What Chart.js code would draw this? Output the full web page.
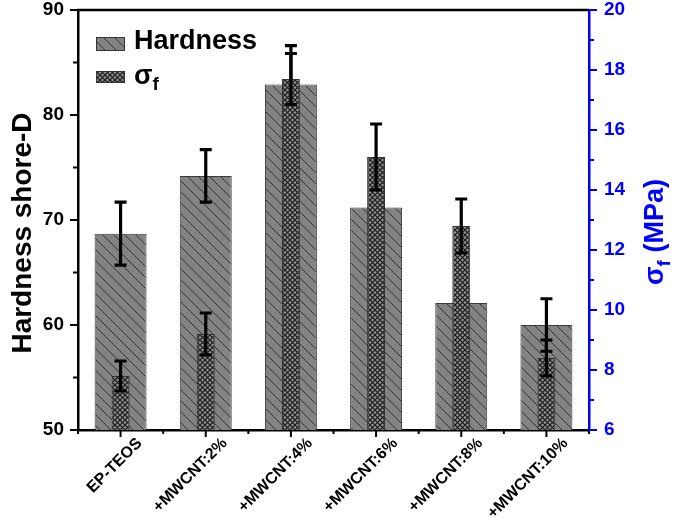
<!DOCTYPE html>
<html lang="en">
<head>
    <meta charset="UTF-8">
    <title>Hardness and flexural strength</title>
    <script src="https://cdn.jsdelivr.net/npm/chart.js"></script>
    <style>
        body {
            margin: 0;
            background: #fff;
        }
    </style>
</head>
<body>
    <canvas id="myChart" width="685" height="525"></canvas>

    <script>
        const categories = ['EP-TEOS', '+MWCNT:2%', '+MWCNT:4%', '+MWCNT:6%', '+MWCNT:8%', '+MWCNT:10%'];
        const hardness = [68.7, 74.2, 82.9, 71.2, 62.1, 60.0];
        const hardnessErr = [3.0, 2.5, 3.7, 2.5, 2.5, 2.5];
        const sigmaF = [7.8, 9.2, 17.7, 15.1, 12.8, 8.4];
        const sigmaFErr = [0.5, 0.7, 0.85, 1.1, 0.9, 0.6];
        const leftTicks = [50, 60, 70, 80, 90];
        const rightTicks = [6, 8, 10, 12, 14, 16, 18, 20];

        const FONT = 'Arial, "Liberation Sans", sans-serif';
        const BLUE = '#0000ff';

        function diagPattern() {
            const c = document.createElement('canvas');
            c.width = 11; c.height = 11;
            const g = c.getContext('2d');
            g.fillStyle = '#838383';
            g.fillRect(0, 0, 11, 11);
            g.strokeStyle = '#2a2a2a';
            g.lineWidth = 0.9;
            g.beginPath();
            g.moveTo(-1, -1); g.lineTo(12, 12);
            g.moveTo(-1, 10); g.lineTo(1, 12);
            g.moveTo(10, -1); g.lineTo(12, 1);
            g.stroke();
            return g.createPattern(c, 'repeat');
        }

        function crossPattern() {
            const c = document.createElement('canvas');
            c.width = 5; c.height = 5;
            const g = c.getContext('2d');
            g.fillStyle = '#8e8e8e';
            g.fillRect(0, 0, 5, 5);
            g.strokeStyle = '#1a1a1a';
            g.lineWidth = 1.2;
            g.beginPath();
            g.moveTo(0, 0); g.lineTo(5, 5);
            g.moveTo(0, 5); g.lineTo(5, 0);
            g.stroke();
            return g.createPattern(c, 'repeat');
        }

        const diag = diagPattern();
        const cross = crossPattern();

        // error bars drawn right after each dataset so sigma bars cover hardness errors
        const errorBars = {
            id: 'errorBars',
            afterDatasetDraw(chart, args) {
                const ds = chart.data.datasets[args.index];
                const errs = ds.errors;
                if (!errs) return;
                const ctx = chart.ctx;
                const y = chart.scales[ds.yAxisID];
                ctx.save();
                ctx.strokeStyle = '#000';
                ctx.lineWidth = 3.2;
                args.meta.data.forEach((bar, i) => {
                    const v = ds.data[i];
                    const top = y.getPixelForValue(v + errs[i]);
                    const bot = y.getPixelForValue(v - errs[i]);
                    ctx.beginPath();
                    ctx.moveTo(bar.x, top); ctx.lineTo(bar.x, bot);
                    ctx.moveTo(bar.x - 6, top); ctx.lineTo(bar.x + 6, top);
                    ctx.moveTo(bar.x - 6, bot); ctx.lineTo(bar.x + 6, bot);
                    ctx.stroke();
                });
                ctx.restore();
            }
        };

        const decorations = {
            id: 'decorations',
            afterDraw(chart) {
                const ctx = chart.ctx;
                const a = chart.chartArea;
                const x = chart.scales.x, yl = chart.scales.yL, yr = chart.scales.yR;
                ctx.save();
                ctx.lineCap = 'butt';

                // top frame
                ctx.strokeStyle = '#000';
                ctx.lineWidth = 2.5;
                ctx.beginPath();
                ctx.moveTo(a.left - 1, a.top); ctx.lineTo(a.right, a.top);
                ctx.stroke();

                // left ticks
                ctx.lineWidth = 2;
                for (let v = 50; v <= 90; v += 5) {
                    const p = yl.getPixelForValue(v);
                    const len = v % 10 === 0 ? 8 : 5;
                    ctx.beginPath();
                    ctx.moveTo(a.left, p); ctx.lineTo(a.left - len, p);
                    ctx.stroke();
                }

                // x ticks
                const n = categories.length;
                for (let i = 0; i <= n; i++) {
                    const p = x.getPixelForDecimal(i / n);
                    ctx.beginPath();
                    ctx.moveTo(p, a.bottom); ctx.lineTo(p, a.bottom + 4);
                    ctx.stroke();
                }
                for (let i = 0; i < n; i++) {
                    const p = x.getPixelForValue(i);
                    ctx.beginPath();
                    ctx.moveTo(p, a.bottom); ctx.lineTo(p, a.bottom + 7);
                    ctx.stroke();
                }

                // right ticks
                ctx.strokeStyle = BLUE;
                for (let v = 6; v <= 20; v += 1) {
                    const p = yr.getPixelForValue(v);
                    const len = v % 2 === 0 ? 8 : 5;
                    ctx.beginPath();
                    ctx.moveTo(a.right, p); ctx.lineTo(a.right + len, p);
                    ctx.stroke();
                }

                // axis titles
                ctx.textBaseline = 'middle';
                ctx.textAlign = 'center';
                ctx.fillStyle = '#000';
                ctx.font = 'bold 28px ' + FONT;
                ctx.save();
                ctx.translate(23, 233);
                ctx.rotate(-Math.PI / 2);
                ctx.fillText('Hardness shore-D', 0, 0);
                ctx.restore();

                ctx.save();
                ctx.fillStyle = BLUE;
                ctx.translate(654, 232);
                ctx.rotate(-Math.PI / 2);
                ctx.textAlign = 'left';
                ctx.textBaseline = 'alphabetic';
                ctx.font = 'bold 27px ' + FONT;
                const wS = ctx.measureText('σ').width;
                const rest = ' (MPa)';
                const wR = ctx.measureText(rest).width;
                ctx.font = 'bold 19px ' + FONT;
                const wF = ctx.measureText('f').width;
                let sx = -(wS + wF + wR) / 2;
                ctx.font = 'bold 27px ' + FONT;
                ctx.fillText('σ', sx, 9);
                ctx.font = 'bold 19px ' + FONT;
                ctx.fillText('f', sx + wS, 16);
                ctx.font = 'bold 27px ' + FONT;
                ctx.fillText(rest, sx + wS + wF, 9);
                ctx.restore();

                // legend
                ctx.lineWidth = 1;
                ctx.strokeStyle = '#333';
                ctx.fillStyle = diag;
                ctx.fillRect(96, 37, 29, 14);
                ctx.strokeRect(96.5, 37.5, 28, 13);
                ctx.fillStyle = cross;
                ctx.fillRect(96, 71, 29, 12);
                ctx.strokeRect(96.5, 71.5, 28, 11);

                ctx.fillStyle = '#000';
                ctx.textAlign = 'left';
                ctx.textBaseline = 'alphabetic';
                ctx.font = 'bold 27px ' + FONT;
                ctx.fillText('Hardness', 134, 49);
                ctx.fillText('σ', 134, 84);
                const ws = ctx.measureText('σ').width;
                ctx.font = 'bold 19px ' + FONT;
                ctx.fillText('f', 134 + ws, 90);

                ctx.restore();
            }
        };

        const ctx = document.getElementById('myChart').getContext('2d');
        const myChart = new Chart(ctx, {
            type: 'bar',
            data: {
                labels: categories,
                datasets: [{
                    label: 'Hardness',
                    data: hardness,
                    errors: hardnessErr,
                    yAxisID: 'yL',
                    order: 2,
                    grouped: false,
                    barPercentage: 0.61,
                    categoryPercentage: 1,
                    backgroundColor: diag,
                    borderColor: '#3a3a3a',
                    borderWidth: 1
                }, {
                    label: 'σf',
                    data: sigmaF,
                    errors: sigmaFErr,
                    yAxisID: 'yR',
                    order: 1,
                    grouped: false,
                    barPercentage: 0.21,
                    categoryPercentage: 1,
                    backgroundColor: cross,
                    borderColor: '#333',
                    borderWidth: 1
                }]
            },
            options: {
                responsive: false,
                animation: false,
                layout: { padding: { top: 10, left: 0, right: 0, bottom: 0 } },
                plugins: {
                    legend: { display: false },
                    tooltip: { enabled: false }
                },
                scales: {
                    x: {
                        grid: { display: false, drawTicks: false },
                        border: { display: true, color: '#000', width: 2.5 },
                        ticks: {
                            color: '#000',
                            font: { family: FONT, size: 16, weight: 'bold' },
                            minRotation: 45,
                            maxRotation: 45,
                            labelOffset: 19,
                            padding: 4
                        },
                        afterFit(scale) {
                            scale.height = 95;
                            scale.paddingLeft = 0;
                            scale.paddingRight = 0;
                        }
                    },
                    yL: {
                        position: 'left',
                        min: 50,
                        max: 90,
                        afterBuildTicks(scale) { scale.ticks = leftTicks.map(v => ({ value: v })); },
                        grid: { display: false, drawTicks: false },
                        border: { display: true, color: '#000', width: 2.5 },
                        ticks: {
                            color: '#000',
                            font: { family: FONT, size: 19, weight: 'bold' },
                            padding: 14
                        },
                        afterFit(scale) {
                            scale.width = 78;
                            scale.paddingTop = 0;
                            scale.paddingBottom = 0;
                        }
                    },
                    yR: {
                        position: 'right',
                        min: 6,
                        max: 20,
                        afterBuildTicks(scale) { scale.ticks = rightTicks.map(v => ({ value: v })); },
                        grid: { display: false, drawTicks: false },
                        border: { display: true, color: BLUE, width: 2.5 },
                        ticks: {
                            color: BLUE,
                            font: { family: FONT, size: 19, weight: 'bold' },
                            padding: 15
                        },
                        afterFit(scale) {
                            scale.width = 96;
                            scale.paddingTop = 0;
                            scale.paddingBottom = 0;
                        }
                    }
                }
            },
            plugins: [errorBars, decorations]
        });
    </script>
</body>
</html>
